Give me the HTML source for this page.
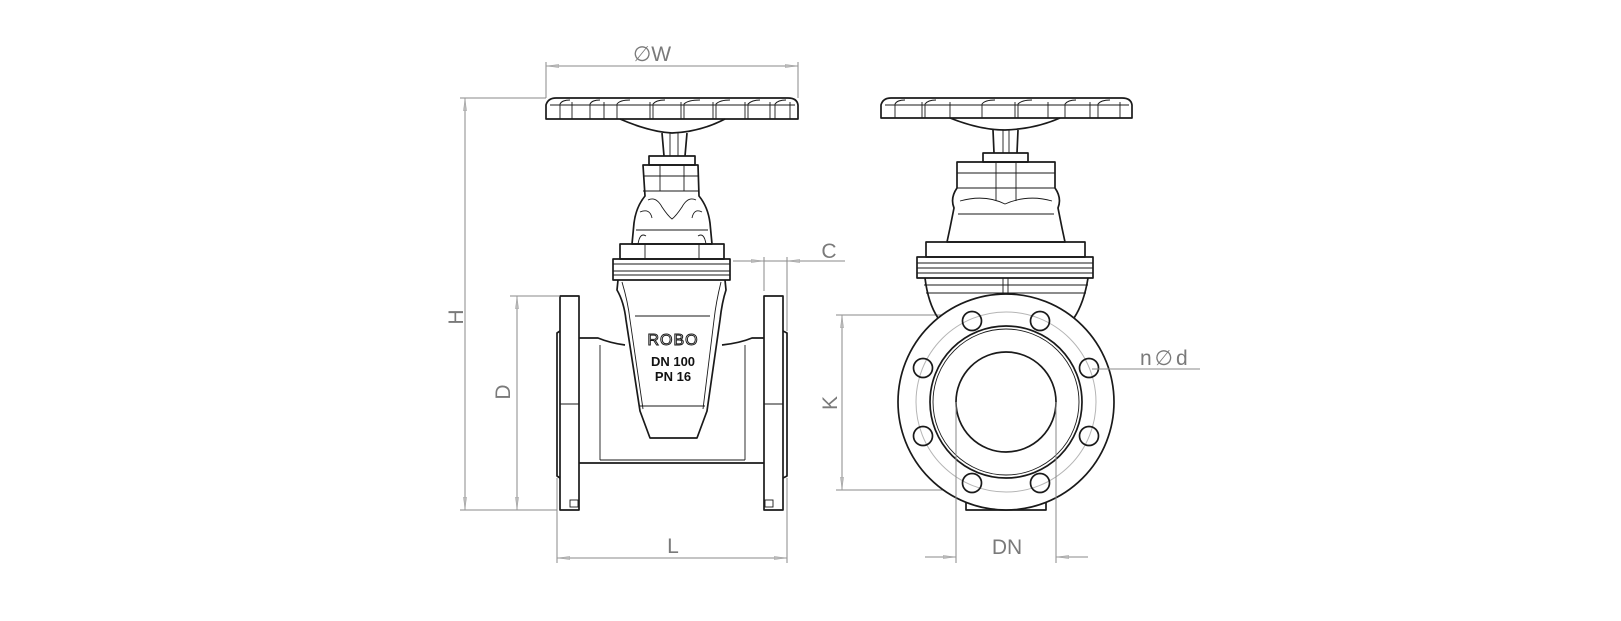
<!DOCTYPE html>
<html><head><meta charset="utf-8"><style>
html,body{margin:0;padding:0;background:#fff;width:1621px;height:621px;overflow:hidden}
svg{display:block}
.k{fill:none;stroke:#1a1a1a;stroke-width:1.7;stroke-linejoin:round}
.t{fill:none;stroke:#1a1a1a;stroke-width:0.9}
.d{fill:none;stroke:#8a8a8a;stroke-width:1}
.lt{fill:none;stroke:#b5b5b5;stroke-width:1}
.lab{font-family:"Liberation Sans",sans-serif;font-size:21px;fill:#7a7a7a}
</style></head><body>
<svg width="1621" height="621" viewBox="0 0 1621 621" xmlns="http://www.w3.org/2000/svg">
<defs>
<marker id="a" markerWidth="14" markerHeight="6" refX="13" refY="3" orient="auto" markerUnits="userSpaceOnUse"><path d="M0,1.5 L13,3 L0,4.5 Z" fill="#bbb" stroke="#999" stroke-width="0.5"/></marker>
</defs>

<!-- ===== LEFT VIEW ===== -->
<path class="k" d="M546,119 L546,105 Q548,98 556,98 L788,98 Q797,98 798,105 L798,119 Z"/>
<g class="t">
<line x1="550" y1="105" x2="795" y2="105"/>
<path d="M560,119 V104 Q562,100 570,100 M572,119 V102 M590,119 V104 Q592,100 600,100 M604,119 V102 M617,119 V104 Q620,100 630,100 M650,119 V102 M653,119 V104 Q656,100 665,100 M681,119 V102 M684,119 V104 Q688,100 700,100 M713,119 V102 M716,119 V104 Q720,100 730,100 M745,119 V102 M748,119 V104 Q752,100 760,100 M770,119 V102 M775,119 V104 Q778,100 786,100 M790,119 V102"/>
</g>
<path class="k" d="M620,119 Q650,132 672,133 Q700,132 725,119"/>
<path class="k" d="M662,133 L664,156 M687,133 L685,156"/>
<line class="t" x1="670" y1="133" x2="670" y2="156"/><line class="t" x1="678" y1="133" x2="678" y2="156"/>
<rect class="k" x="649" y="156" width="46" height="9"/>
<path class="k" d="M643,165 L698,165 L699,196 Q708,207 710,223 L712,244 L632,244 L634,223 Q636,207 645,196 Z"/>
<g class="t">
<line x1="643" y1="176" x2="698" y2="176"/><line x1="643" y1="191" x2="699" y2="191"/>
<line x1="660" y1="165" x2="660" y2="191"/><line x1="684" y1="165" x2="684" y2="191"/>
<path d="M648,200 Q656,196 662,207 Q668,216 672,219 Q676,216 682,207 Q688,196 696,200"/>
<path d="M640,212 Q650,208 652,218 M702,212 Q694,208 692,218"/>
<line x1="636" y1="230" x2="708" y2="230"/>
<path d="M638,244 Q640,232 646,236 M706,244 Q704,232 698,236"/>
</g>
<rect class="k" x="620" y="244" width="104" height="15"/>
<line class="t" x1="645" y1="244" x2="645" y2="259"/><line class="t" x1="699" y1="244" x2="699" y2="259"/>
<rect class="k" x="613" y="259" width="117" height="21"/>
<g class="t"><line x1="613" y1="264" x2="730" y2="264"/><line x1="613" y1="271" x2="730" y2="271"/><line x1="613" y1="275" x2="730" y2="275"/></g>
<path class="k" d="M618,280 L617,290 Q624,302 626,320 L640,411 L650,438 L697,438 L707,411 L720,320 Q722,302 726,290 L725,280"/>
<g class="t">
<path d="M622,282 Q628,302 630,320 L643,409 M721,282 Q716,302 714,320 L703,409"/>
<path d="M635,316 L710,316"/><path d="M640,406 L705,406"/>
</g>
<text x="673" y="345" text-anchor="middle" font-family="Liberation Sans,sans-serif" font-size="16" fill="#fff" stroke="#1a1a1a" stroke-width="1" letter-spacing="1">ROBO</text>
<text x="673" y="366" text-anchor="middle" font-family="Liberation Sans,sans-serif" font-size="13" font-weight="bold" fill="#111">DN 100</text>
<text x="673" y="381" text-anchor="middle" font-family="Liberation Sans,sans-serif" font-size="13" font-weight="bold" fill="#111">PN 16</text>
<path class="k" d="M579,338 L598,338 Q610,343 625,345 M722,345 Q740,343 752,338 L764,338"/>
<path class="k" d="M579,463 L764,463"/>
<path class="t" d="M600,345 L600,460 M745,345 L745,460 M600,460 L745,460"/>
<rect class="k" x="560" y="296" width="19" height="214"/>
<path class="k" d="M560,331 L557,333 L557,476 L560,478"/>
<line class="t" x1="560" y1="404" x2="579" y2="404"/>
<rect class="t" x="570" y="500" width="8" height="7"/>
<rect class="k" x="764" y="296" width="19" height="214"/>
<path class="k" d="M783,331 L787,333 L787,476 L783,478"/>
<line class="t" x1="764" y1="404" x2="783" y2="404"/>
<rect class="t" x="765" y="500" width="8" height="7"/>

<g class="d">
<line x1="546" y1="62" x2="546" y2="98"/><line x1="798" y1="62" x2="798" y2="98"/>
<line x1="560" y1="66" x2="546" y2="66" marker-end="url(#a)"/><line x1="784" y1="66" x2="798" y2="66" marker-end="url(#a)"/>
<line x1="560" y1="66" x2="784" y2="66"/>
<line x1="460" y1="98" x2="546" y2="98"/><line x1="460" y1="510" x2="557" y2="510"/>
<line x1="465" y1="112" x2="465" y2="98" marker-end="url(#a)"/><line x1="465" y1="496" x2="465" y2="510" marker-end="url(#a)"/><line x1="465" y1="112" x2="465" y2="496"/>
<line x1="510" y1="296" x2="560" y2="296"/>
<line x1="517" y1="310" x2="517" y2="296" marker-end="url(#a)"/><line x1="517" y1="496" x2="517" y2="510" marker-end="url(#a)"/><line x1="517" y1="310" x2="517" y2="496"/>
<line x1="557" y1="478" x2="557" y2="563"/><line x1="787" y1="478" x2="787" y2="563"/>
<line x1="571" y1="558" x2="557" y2="558" marker-end="url(#a)"/><line x1="773" y1="558" x2="787" y2="558" marker-end="url(#a)"/><line x1="571" y1="558" x2="773" y2="558"/>
<line x1="733" y1="261" x2="845" y2="261"/>
<line x1="750" y1="261" x2="764" y2="261" marker-end="url(#a)"/><line x1="801" y1="261" x2="787" y2="261" marker-end="url(#a)"/>
<line x1="764" y1="257" x2="764" y2="291"/><line x1="787" y1="257" x2="787" y2="331"/>
<line x1="836" y1="315" x2="1000" y2="315"/><line x1="836" y1="490" x2="1000" y2="490"/>
<line x1="842" y1="329" x2="842" y2="315" marker-end="url(#a)"/><line x1="842" y1="476" x2="842" y2="490" marker-end="url(#a)"/><line x1="842" y1="329" x2="842" y2="476"/>
</g>
<text class="lab" x="652" y="61" text-anchor="middle">∅W</text>
<text class="lab" transform="translate(463,317) rotate(-90)" text-anchor="middle">H</text>
<text class="lab" transform="translate(510,392) rotate(-90)" text-anchor="middle">D</text>
<text class="lab" x="673" y="553" text-anchor="middle">L</text>
<text class="lab" x="829" y="258" text-anchor="middle">C</text>
<text class="lab" transform="translate(837,403) rotate(-90)" text-anchor="middle">K</text>

<!-- ===== RIGHT VIEW ===== -->
<path class="k" d="M881,118 L881,105 Q883,98 891,98 L1122,98 Q1131,98 1132,105 L1132,118 Z"/>
<g class="t">
<line x1="885" y1="105" x2="1129" y2="105"/>
<path d="M895,118 V104 Q897,100 905,100 M922,118 V102 M925,118 V104 Q928,100 936,100 M950,118 V102 M982,118 V104 Q985,100 995,100 M1015,118 V102 M1018,118 V104 Q1022,100 1032,100 M1048,118 V102 M1065,118 V104 Q1068,100 1076,100 M1090,118 V102 M1098,118 V104 Q1101,100 1110,100 M1120,118 V102"/>
</g>
<path class="k" d="M950,118 Q980,130 1005,130 Q1035,129 1060,118"/>
<path class="k" d="M993,130 L994,153 M1018,130 L1017,153"/>
<line class="t" x1="1003" y1="130" x2="1003" y2="153"/><line class="t" x1="1009" y1="130" x2="1009" y2="153"/>
<rect class="k" x="983" y="153" width="45" height="9"/>
<g transform="translate(0,5)">
<path class="k" d="M957,157 L1055,157 L1055,183 Q1062,193 1058,203 L1062,223 L1065,237 L947,237 L950,223 L954,203 Q950,193 957,183 Z"/>
<g class="t">
<line x1="957" y1="168" x2="1055" y2="168"/><line x1="957" y1="183" x2="1055" y2="183"/>
<line x1="996" y1="157" x2="996" y2="196"/><line x1="1016" y1="157" x2="1016" y2="196"/>
<path d="M960,196 Q985,189 1005,199 Q1028,189 1052,196"/>
<line x1="958" y1="209" x2="1054" y2="209"/>
</g>
<rect class="k" x="926" y="237" width="159" height="15"/>
<rect class="k" x="917" y="252" width="176" height="21"/>
<g class="t"><line x1="917" y1="258" x2="1093" y2="258"/><line x1="917" y1="263" x2="1093" y2="263"/><line x1="917" y1="268" x2="1093" y2="268"/><line x1="924" y1="280" x2="1088" y2="280"/><line x1="926" y1="288" x2="1086" y2="288"/>
<rect x="1003" y="273" width="5" height="18"/></g>
<path class="k" d="M925,273 Q928,298 938,313 M1088,273 Q1084,298 1074,313"/>
<rect class="k" x="966" y="493" width="80" height="12"/>
<circle cx="1006" cy="397" r="108" fill="#fff" stroke="#1a1a1a" stroke-width="1.7"/>
<circle cx="1006" cy="397" r="90" class="lt"/>
<circle cx="1006" cy="397" r="76" class="k"/>
<circle cx="1006" cy="397" r="73" class="t"/>
<circle cx="1006" cy="397" r="50" class="k"/>
<g class="k">
<circle cx="972" cy="316" r="9.5"/><circle cx="1040" cy="316" r="9.5"/>
<circle cx="923" cy="363" r="9.5"/><circle cx="1089" cy="363" r="9.5"/>
<circle cx="923" cy="431" r="9.5"/><circle cx="1089" cy="431" r="9.5"/>
<circle cx="972" cy="478" r="9.5"/><circle cx="1040" cy="478" r="9.5"/>
</g>
</g>
<g class="d">
<line x1="956" y1="402" x2="956" y2="563"/><line x1="1056" y1="402" x2="1056" y2="563"/>
<line x1="925" y1="557" x2="956" y2="557" marker-end="url(#a)"/><line x1="1088" y1="557" x2="1056" y2="557" marker-end="url(#a)"/>
<line x1="1092" y1="369" x2="1200" y2="369"/>
</g>
<text class="lab" x="1007" y="554" text-anchor="middle">DN</text>
<text class="lab" x="1140" y="365" letter-spacing="3">n∅d</text>
</svg>
</body></html>
